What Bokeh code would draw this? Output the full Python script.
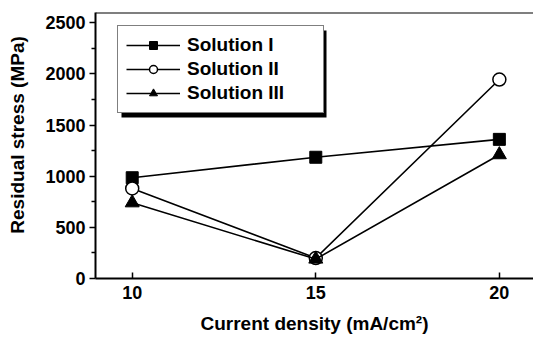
from bokeh.plotting import figure
from bokeh.models import (Legend, LegendItem, FixedTicker, Span,
                          BoxAnnotation, Range1d)
from bokeh.embed import file_html
from bokeh.resources import INLINE

current_density = [10, 15, 20]
solution_1 = [985, 1185, 1360]
solution_2 = [880, 200, 1945]
solution_3 = [740, 190, 1210]
series_names = ["Solution I", "Solution II", "Solution III"]
x_ticks = [10, 15, 20]
y_ticks = [0, 500, 1000, 1500, 2000, 2500]
y_minor = [250, 750, 1250, 1750, 2250]
x_lo, x_hi = 9, 20.93
y_lo, y_hi = 0, 2600

FONT = "Liberation Sans"

p = figure(width=533, height=340, output_backend="svg", toolbar_location=None,
           x_range=Range1d(x_lo, x_hi), y_range=Range1d(y_lo, y_hi),
           min_border_left=95, min_border_right=0, min_border_top=12,
           min_border_bottom=62)
p.background_fill_color = "white"
p.border_fill_color = "white"
p.outline_line_color = None
p.grid.visible = False

r1l = p.line(current_density, solution_1, line_color="black", line_width=1.6)
r1m = p.scatter(current_density, solution_1, marker="square", size=12,
                fill_color="black", line_color="black")
r2l = p.line(current_density, solution_2, line_color="black", line_width=1.6)
r2m = p.scatter(current_density, solution_2, marker="circle", size=13,
                fill_color="white", line_color="black", line_width=1.5)
r3l = p.line(current_density, solution_3, line_color="black", line_width=1.6)
r3m = p.scatter(current_density, solution_3, marker="triangle", size=14,
                fill_color="black", line_color="black")

# axes
xa = p.xaxis[0]
xa.ticker = FixedTicker(ticks=x_ticks)
xa.axis_label = "Current density (mA/cm\u00b2)"
xa.axis_line_width = 2
xa.major_tick_in = 6
xa.major_tick_out = 0
xa.major_tick_line_width = 1.5
xa.minor_tick_line_color = None
xa.major_label_standoff = 7
xa.axis_label_standoff = 11

ya = p.yaxis[0]
ya.ticker = FixedTicker(ticks=y_ticks, minor_ticks=y_minor)
ya.axis_label = "\u00a0\u00a0\u00a0\u00a0Residual stress (MPa)"
ya.axis_line_width = 2
ya.major_tick_in = 0
ya.major_tick_out = 6
ya.minor_tick_in = 0
ya.minor_tick_out = 4
ya.major_tick_line_width = 1.5
ya.minor_tick_line_width = 1.5
ya.major_label_standoff = 4
ya.axis_label_standoff = 14

for ax in (xa, ya):
    ax.major_label_text_font = FONT
    ax.major_label_text_font_style = "bold"
    ax.major_label_text_font_size = "18px"
    ax.major_label_text_color = "black"
    ax.axis_label_text_font = FONT
    ax.axis_label_text_font_style = "bold"
    ax.axis_label_text_font_size = "19px"
    ax.axis_label_text_color = "black"

# top border of the frame
p.add_layout(Span(location=y_hi, dimension="width", line_color="black",
                  line_width=2))

# legend shadow
shadow = BoxAnnotation(left=26, right=231, bottom=161, top=248,
                       left_units="screen", right_units="screen",
                       bottom_units="screen", top_units="screen",
                       fill_color="black", fill_alpha=1.0, line_color=None)
p.add_layout(shadow)

legend = Legend(items=[
    LegendItem(label=series_names[0], renderers=[r1l, r1m]),
    LegendItem(label=series_names[1], renderers=[r2l, r2m]),
    LegendItem(label=series_names[2], renderers=[r3l, r3m]),
], location=(22, 165))
legend.label_text_font = FONT
legend.label_text_font_style = "bold"
legend.label_text_font_size = "19px"
legend.label_text_color = "black"
legend.glyph_width = 54
legend.glyph_height = 20
legend.label_height = 20
legend.label_width = 128
legend.label_standoff = 7
legend.spacing = 2
legend.padding = 8
legend.margin = 0
legend.border_line_color = "black"
legend.border_line_width = 1.5
legend.background_fill_color = "white"
legend.background_fill_alpha = 1.0
p.add_layout(legend)

open("out.html", "w").write(file_html(p, INLINE))
